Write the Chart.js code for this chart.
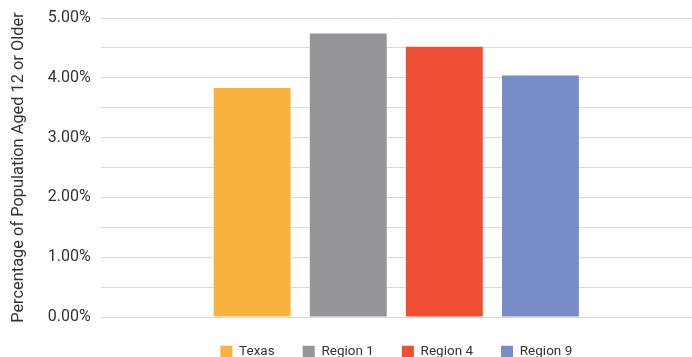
<!DOCTYPE html>
<html>
<head>
<meta charset="utf-8">
<script src="https://cdn.jsdelivr.net/npm/chart.js@4/dist/chart.umd.min.js"></script>
<style>
  html, body { margin: 0; padding: 0; background: #ffffff; }
  #wrap { width: 692px; height: 357px; position: relative; }
</style>
</head>
<body>
<div id="wrap"><canvas id="chart"></canvas></div>
<script>
// Share of population aged 12 or older, by area (percent)
const areas = ['Texas', 'Region 1', 'Region 4', 'Region 9'];
const percentages = [3.83, 4.74, 4.52, 4.04];
const barColors = ['#F9B13F', '#939598', '#EE4E31', '#788CC8'];
const axisTitle = 'Percentage of Population Aged 12 or Older';

const datasets = areas.map((name, i) => ({
  label: name,
  data: [percentages[i]],
  backgroundColor: barColors[i],
  borderWidth: 0,
  barPercentage: 0.8,
  categoryPercentage: 0.65
}));

new Chart(document.getElementById('chart'), {
  type: 'bar',
  data: { labels: [''], datasets },
  options: {
    responsive: true,
    maintainAspectRatio: false,
    animation: false,
    layout: { padding: { top: 2, right: 0, bottom: 0, left: 9 } },
    plugins: {
      tooltip: { enabled: false },
      legend: {
        position: 'bottom',
        fullSize: false,
        maxHeight: 40,
        labels: {
          boxWidth: 12,
          boxHeight: 12,
          padding: 28,
          color: '#333333',
          font: { family: 'Roboto', size: 13.5 }
        }
      }
    },
    scales: {
      x: { display: false },
      y: {
        min: 0,
        max: 5,
        border: { display: false },
        grid: { color: '#d9d9d9', lineWidth: 1, drawTicks: false },
        ticks: {
          stepSize: 0.5,
          padding: 10,
          color: '#333333',
          font: { family: 'Roboto', size: 16, lineHeight: 1 },
          callback: v => (Math.abs(v % 1) < 1e-9 ? v.toFixed(2) + '%' : '')
        },
        title: {
          display: true,
          text: axisTitle,
          color: '#333333',
          font: { family: 'Roboto', size: 16.4 },
          padding: { top: 0, bottom: 9 }
        }
      }
    }
  }
});
</script>
</body>
</html>
